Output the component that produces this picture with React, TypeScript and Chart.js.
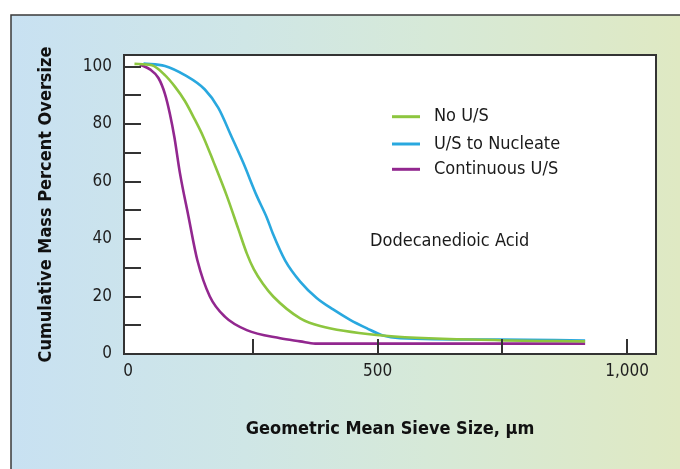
import { useEffect, useRef } from "react";
import { Chart, registerables } from "chart.js";

Chart.register(...registerables);

const FONT = "'DejaVu Sans Condensed', 'DejaVu Sans', sans-serif";

const seriesLabels = ["No U/S", "U/S to Nucleate", "Continuous U/S"];
const seriesColors = ["#8dc63f", "#29a8df", "#92278f"];

const noUsX = [13, 48, 74, 94, 114, 134, 151, 171, 198, 221, 238, 252, 270, 291, 345, 385, 498, 745, 916];
const noUsY = [100.9, 100.4, 97, 93, 88, 81.5, 75.5, 67, 55, 43.5, 35, 29.5, 24.5, 20, 12.4, 9.7, 6.6, 4.8, 4.4];

const nucleateX = [31, 74, 114, 154, 181, 208, 231, 258, 278, 290, 315, 345, 378, 411, 445, 478, 511, 545, 745, 916];
const nucleateY = [101, 100.2, 97, 92, 85.6, 75.4, 66.5, 55, 47.5, 42, 32.5, 25.2, 19.5, 15.5, 11.9, 9, 6.4, 5.5, 5.0, 4.7];

const continuousX = [24, 44, 61, 74, 84, 93, 104, 121, 139, 164, 194, 238, 305, 345, 375, 916];
const continuousY = [100.7, 99, 96, 90.5, 83.5, 75.4, 63, 48, 32.6, 20, 13, 8.3, 5.5, 4.4, 3.6, 3.6];

const xLabelTicks = [0, 500, 1000];
const xMarkTicks = [250, 500, 750, 1000];
const yLabelTicks = [0, 20, 40, 60, 80, 100];
const yMarkTicks = [10, 20, 30, 40, 50, 60, 70, 80, 90, 100];

const annotationText = "Dodecanedioic Acid";
const xTitle = "Geometric Mean Sieve Size, \u00b5m";
const yTitle = "Cumulative Mass Percent Oversize";

function toPoints(xs: number[], ys: number[]) {
  return xs.map((x, i) => ({ x, y: ys[i] }));
}

const framePlugin = {
  id: "frameDecor",
  beforeDraw(chart: any) {
    const { ctx, width, height, chartArea: a } = chart;
    ctx.save();
    ctx.fillStyle = "#ffffff";
    ctx.fillRect(0, 0, width, height);
    const g = ctx.createLinearGradient(11, 0, width, 0);
    g.addColorStop(0, "#c8e1f2");
    g.addColorStop(0.35, "#cfe6e6");
    g.addColorStop(0.62, "#d6e9d8");
    g.addColorStop(1, "#dfe9c3");
    ctx.fillStyle = g;
    ctx.fillRect(11, 15, width - 11, height - 15);
    ctx.strokeStyle = "#3a3a3a";
    ctx.lineWidth = 1.5;
    ctx.beginPath();
    ctx.moveTo(11, height);
    ctx.lineTo(11, 15);
    ctx.lineTo(width, 15);
    ctx.stroke();
    ctx.fillStyle = "#ffffff";
    ctx.fillRect(a.left, a.top, a.right - a.left, a.bottom - a.top);
    ctx.restore();
  },
  afterDraw(chart: any) {
    const { ctx, chartArea: a } = chart;
    const xs = chart.scales.x;
    const ys = chart.scales.y;
    ctx.save();
    ctx.strokeStyle = "#333333";
    ctx.lineWidth = 2;
    ctx.beginPath();
    yMarkTicks.forEach((v) => {
      const py = Math.round(ys.getPixelForValue(v));
      ctx.moveTo(a.left, py);
      ctx.lineTo(a.left + 17, py);
    });
    xMarkTicks.forEach((v) => {
      const px = Math.round(xs.getPixelForValue(v));
      ctx.moveTo(px, a.bottom);
      ctx.lineTo(px, a.bottom - 15);
    });
    ctx.stroke();
    ctx.strokeRect(a.left, a.top, a.right - a.left, a.bottom - a.top);

    // legend
    const rows = [116.7, 144, 169.3];
    ctx.font = `18px ${FONT}`;
    ctx.textBaseline = "middle";
    ctx.textAlign = "left";
    chart.data.datasets.forEach((ds: any, i: number) => {
      ctx.strokeStyle = ds.borderColor;
      ctx.lineWidth = 3;
      ctx.beginPath();
      ctx.moveTo(392, rows[i]);
      ctx.lineTo(420, rows[i]);
      ctx.stroke();
      ctx.fillStyle = "#1a1a1a";
      ctx.fillText(ds.label, 434, rows[i]);
    });
    ctx.fillText(annotationText, 370, 241.5);
    ctx.restore();
  },
};

export default function App() {
  const canvasRef = useRef<HTMLCanvasElement | null>(null);

  useEffect(() => {
    document.body.style.margin = "0";
    const canvas = canvasRef.current;
    if (!canvas) return;
    const datasets = [
      { x: noUsX, y: noUsY },
      { x: nucleateX, y: nucleateY },
      { x: continuousX, y: continuousY },
    ].map((s, i) => ({
      label: seriesLabels[i],
      data: toPoints(s.x, s.y),
      borderColor: seriesColors[i],
      backgroundColor: seriesColors[i],
      borderWidth: 2.6,
      pointRadius: 0,
      showLine: true,
      fill: false,
      cubicInterpolationMode: "monotone" as const,
    }));

    const chart = new Chart(canvas, {
      type: "scatter",
      data: { datasets },
      plugins: [framePlugin],
      options: {
        animation: false,
        responsive: false,
        layout: { padding: { left: 36, top: 55, right: 24, bottom: 29 } },
        plugins: { legend: { display: false }, tooltip: { enabled: false } },
        scales: {
          x: {
            type: "linear",
            min: -8,
            max: 1058,
            afterFit: (s: any) => {
              s.height = 86;
            },
            afterBuildTicks: (s: any) => {
              s.ticks = xLabelTicks.map((v) => ({ value: v }));
            },
            grid: { display: false, drawTicks: false },
            border: { display: false },
            ticks: {
              padding: 7,
              color: "#1e1e1e",
              font: { family: FONT, size: 17 },
              maxRotation: 0,
              callback: (v: any) => Number(v).toLocaleString("en-US"),
            },
            title: {
              display: true,
              text: xTitle,
              color: "#111111",
              padding: 0,
              font: { family: FONT, size: 18, weight: "bold" },
            },
          },
          y: {
            type: "linear",
            min: 0,
            max: 104,
            afterFit: (s: any) => {
              s.width = 88;
            },
            afterBuildTicks: (s: any) => {
              s.ticks = yLabelTicks.map((v) => ({ value: v }));
            },
            grid: { display: false, drawTicks: false },
            border: { display: false },
            ticks: {
              padding: 12,
              color: "#1e1e1e",
              font: { family: FONT, size: 17 },
            },
            title: {
              display: true,
              text: yTitle,
              color: "#111111",
              padding: 0,
              font: { family: FONT, size: 18, weight: "bold" },
            },
          },
        },
      },
    });
    return () => chart.destroy();
  }, []);

  return (
    <div style={{ width: 680, height: 469 }}>
      <canvas ref={canvasRef} width={680} height={469} />
    </div>
  );
}
